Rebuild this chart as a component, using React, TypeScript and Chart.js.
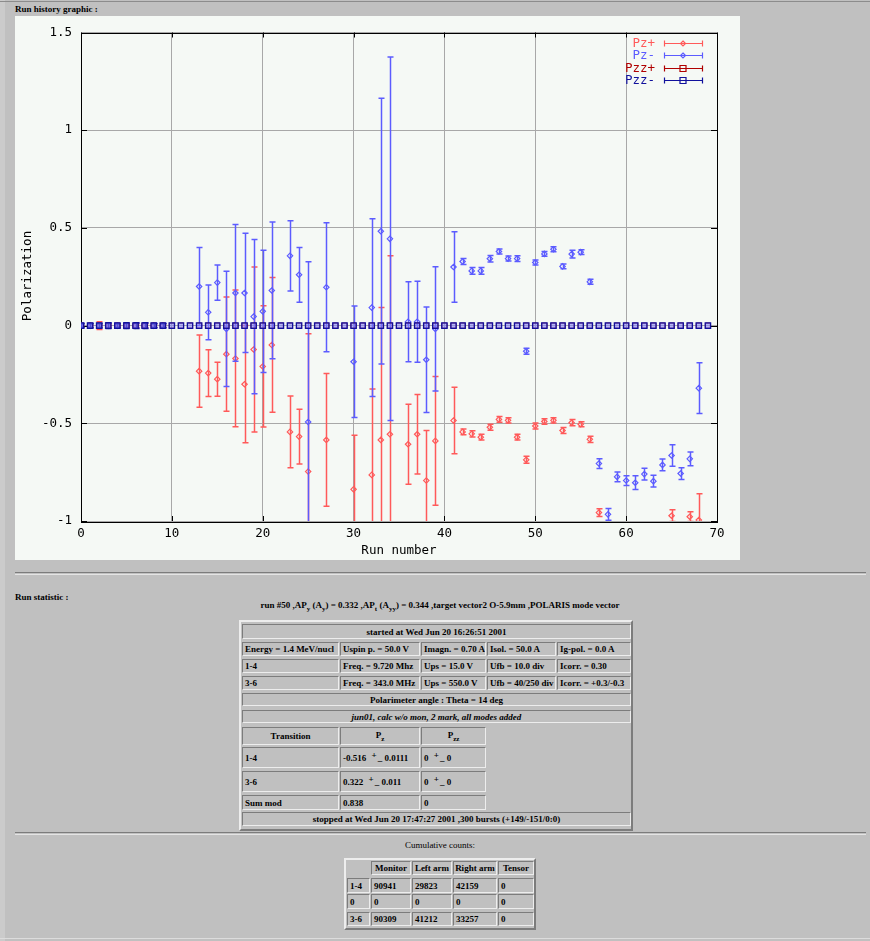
import React, { useEffect, useRef } from "react";
import { Chart, registerables } from "chart.js";
Chart.register(...registerables);

// ---------- data ----------
const pzPlusRuns = [0, 1, 2, 3, 4, 5, 6, 7, 8, 9, 13, 14, 15, 16, 17, 18, 19, 20, 21, 23, 24, 25, 27, 30, 32, 33, 34, 36, 37, 38, 39, 41, 42, 43, 44, 45, 46, 47, 48, 49, 50, 51, 52, 53, 54, 55, 56, 57, 65, 67, 68];
const pzPlusValues = [0, 0, 0, 0, 0, 0, 0, 0, 0, 0, -0.233, -0.243, -0.274, -0.146, -0.168, -0.3, -0.122, -0.209, -0.099, -0.544, -0.568, -0.747, -0.585, -0.838, -0.764, -0.585, -0.556, -0.607, -0.556, -0.793, -0.59, -0.486, -0.544, -0.554, -0.571, -0.52, -0.48, -0.485, -0.571, -0.687, -0.514, -0.491, -0.485, -0.537, -0.497, -0.505, -0.582, -0.957, -0.973, -0.978, -0.995];
const pzPlusErrors = [0.01, 0.01, 0.02, 0.01, 0.01, 0.01, 0.01, 0.01, 0.01, 0.01, 0.185, 0.12, 0.087, 0.292, 0.35, 0.3, 0.422, 0.31, 0.345, 0.184, 0.14, 0.705, 0.34, 0.277, 0.44, 0.677, 0.913, 0.205, 0.203, 0.256, 0.33, 0.17, 0.015, 0.016, 0.015, 0.015, 0.015, 0.014, 0.015, 0.018, 0.015, 0.014, 0.014, 0.015, 0.016, 0.013, 0.016, 0.02, 0.03, 0.025, 0.135];

const pzMinusRuns = [0, 1, 2, 3, 4, 5, 6, 7, 8, 9, 13, 14, 15, 16, 17, 18, 19, 20, 21, 23, 24, 25, 27, 30, 32, 33, 34, 36, 37, 38, 39, 41, 42, 43, 44, 45, 46, 47, 48, 49, 50, 51, 52, 53, 54, 55, 56, 57, 58, 59, 60, 61, 62, 63, 64, 65, 66, 67, 68];
const pzMinusValues = [0, 0, 0, 0, 0, 0, 0, 0, 0, 0, 0.2, 0.068, 0.22, -0.017, 0.167, 0.167, 0.046, 0.073, 0.18, 0.357, 0.26, -0.493, 0.196, -0.185, 0.092, 0.483, 0.444, 0.02, 0.02, -0.175, -0.017, 0.3, 0.328, 0.28, 0.28, 0.342, 0.379, 0.343, 0.343, -0.131, 0.323, 0.367, 0.391, 0.303, 0.366, 0.376, 0.224, -0.706, -0.966, -0.774, -0.793, -0.804, -0.76, -0.796, -0.713, -0.665, -0.757, -0.682, -0.32];
const pzMinusErrors = [0.012, 0.012, 0.012, 0.012, 0.012, 0.012, 0.012, 0.012, 0.012, 0.012, 0.2, 0.14, 0.09, 0.295, 0.35, 0.305, 0.395, 0.313, 0.35, 0.18, 0.14, 0.82, 0.33, 0.285, 0.455, 0.68, 0.93, 0.205, 0.207, 0.27, 0.318, 0.18, 0.015, 0.017, 0.017, 0.017, 0.013, 0.013, 0.015, 0.015, 0.013, 0.012, 0.013, 0.012, 0.02, 0.012, 0.013, 0.025, 0.03, 0.025, 0.025, 0.035, 0.03, 0.03, 0.03, 0.055, 0.03, 0.035, 0.13];

const pzzRuns = [0, 1, 2, 3, 4, 5, 6, 7, 8, 9, 10, 11, 12, 13, 14, 15, 16, 17, 18, 19, 20, 21, 22, 23, 24, 25, 26, 27, 28, 29, 30, 31, 32, 33, 34, 35, 36, 37, 38, 39, 40, 41, 42, 43, 44, 45, 46, 47, 48, 49, 50, 51, 52, 53, 54, 55, 56, 57, 58, 59, 60, 61, 62, 63, 64, 65, 66, 67, 68, 69];
const pzzPlusValues = [0, 0, 0, 0, 0, 0, 0, 0, 0, 0, 0, 0, 0, 0, 0, 0, 0, 0, 0, 0, 0, 0, 0, 0, 0, 0, 0, 0, 0, 0, 0, 0, 0, 0, 0, 0, 0, 0, 0, 0, 0, 0, 0, 0, 0, 0, 0, 0, 0, 0, 0, 0, 0, 0, 0, 0, 0, 0, 0, 0, 0, 0, 0, 0, 0, 0, 0, 0, 0, 0];
const pzzMinusValues = [0, 0, 0, 0, 0, 0, 0, 0, 0, 0, 0, 0, 0, 0, 0, 0, 0, 0, 0, 0, 0, 0, 0, 0, 0, 0, 0, 0, 0, 0, 0, 0, 0, 0, 0, 0, 0, 0, 0, 0, 0, 0, 0, 0, 0, 0, 0, 0, 0, 0, 0, 0, 0, 0, 0, 0, 0, 0, 0, 0, 0, 0, 0, 0, 0, 0, 0, 0, 0, 0];
const pzzMinusErrors = [0.01, 0.01, 0.01, 0.015, 0.01, 0.015, 0.015, 0.015, 0.01, 0.01, 0, 0, 0, 0, 0, 0, 0, 0, 0, 0, 0, 0, 0, 0, 0, 0, 0, 0, 0, 0, 0, 0, 0, 0, 0, 0, 0, 0, 0, 0, 0, 0, 0, 0, 0, 0, 0, 0, 0, 0, 0, 0, 0, 0, 0, 0, 0, 0, 0, 0, 0, 0, 0, 0, 0, 0, 0, 0, 0, 0];

const seriesLabels = ["Pz+", "Pz-", "Pzz+", "Pzz-"];
const xTickValues = [0, 10, 20, 30, 40, 50, 60, 70];
const yTickValues = [-1, -0.5, 0, 0.5, 1, 1.5];

const COL_PZP = "#ff5a5a";
const COL_PZM = "#5c5cff";
const COL_PZZP = "#b00000";
const COL_PZZM = "#10109c";
const MONO = '"DejaVu Sans Mono", monospace';

const toPoints = (xs: number[], ys: number[]) => xs.map((x, i) => ({ x, y: ys[i] }));

const errorBarPlugin = {
  id: "errorBars",
  beforeDatasetDraw(chart: any, args: any) {
    const ds = chart.data.datasets[args.index];
    const errs: number[] | undefined = ds.errors;
    if (!errs) return;
    const { ctx, chartArea, scales } = chart;
    ctx.save();
    ctx.beginPath();
    ctx.rect(chartArea.left, chartArea.top, chartArea.right - chartArea.left, chartArea.bottom - chartArea.top);
    ctx.clip();
    ctx.strokeStyle = ds.barColor || ds.borderColor;
    ctx.lineWidth = 1.5;
    ds.data.forEach((p: any, i: number) => {
      const e = errs[i];
      if (!e) return;
      const x = Math.round(scales.x.getPixelForValue(p.x)) + 0.5;
      const y1 = scales.y.getPixelForValue(p.y + e);
      const y2 = scales.y.getPixelForValue(p.y - e);
      ctx.beginPath();
      ctx.moveTo(x, y1);
      ctx.lineTo(x, y2);
      ctx.moveTo(x - 3, y1);
      ctx.lineTo(x + 3, y1);
      ctx.moveTo(x - 3, y2);
      ctx.lineTo(x + 3, y2);
      ctx.stroke();
    });
    ctx.restore();
  },
};

const framePlugin = {
  id: "frame",
  beforeDatasetsDraw(chart: any) {
    const { ctx, chartArea: a, scales } = chart;
    ctx.save();
    ctx.strokeStyle = "#000";
    ctx.lineWidth = 1;
    ctx.strokeRect(Math.round(a.left) + 0.5, Math.round(a.top) + 0.5, Math.round(a.right - a.left), Math.round(a.bottom - a.top));
    ctx.beginPath();
    xTickValues.forEach((v) => {
      const x = Math.round(scales.x.getPixelForValue(v)) + 0.5;
      ctx.moveTo(x, a.bottom);
      ctx.lineTo(x, a.bottom - 5);
      ctx.moveTo(x, a.top);
      ctx.lineTo(x, a.top + 5);
    });
    yTickValues.forEach((v) => {
      const y = Math.round(scales.y.getPixelForValue(v)) + 0.5;
      ctx.moveTo(a.left, y);
      ctx.lineTo(a.left + 6, y);
      ctx.moveTo(a.right, y);
      ctx.lineTo(a.right - 6, y);
    });
    ctx.stroke();
    ctx.restore();
  },
  afterDraw(chart: any) {
    const { ctx } = chart;
    ctx.save();
    ctx.font = `12.5px ${MONO}`;
    ctx.fillStyle = "#000";
    ctx.textAlign = "center";
    ctx.textBaseline = "middle";
    ctx.fillText("Run number", 384, 535);
    ctx.save();
    ctx.translate(13, 260);
    ctx.rotate(-Math.PI / 2);
    ctx.fillText("Polarization", 0, 0);
    ctx.restore();
    // legend
    const colors = [COL_PZP, COL_PZM, COL_PZZP, COL_PZZM];
    seriesLabels.forEach((lab, i) => {
      const y = Math.round(26.7 + i * 12.4) + 0.5;
      ctx.fillStyle = colors[i];
      ctx.textAlign = "right";
      ctx.fillText(lab, 640, y);
      ctx.strokeStyle = colors[i];
      ctx.lineWidth = 1.2;
      ctx.beginPath();
      ctx.moveTo(649.5, y);
      ctx.lineTo(687.5, y);
      ctx.moveTo(649.5, y - 3);
      ctx.lineTo(649.5, y + 3);
      ctx.moveTo(687.5, y - 3);
      ctx.lineTo(687.5, y + 3);
      ctx.stroke();
      ctx.beginPath();
      if (i < 2) {
        ctx.moveTo(668, y - 2.5);
        ctx.lineTo(670.5, y);
        ctx.lineTo(668, y + 2.5);
        ctx.lineTo(665.5, y);
        ctx.closePath();
      } else {
        ctx.rect(665, y - 3, 6, 6);
      }
      ctx.stroke();
    });
    ctx.restore();
  },
};

function PolChart() {
  const ref = useRef<HTMLCanvasElement | null>(null);
  useEffect(() => {
    if (!ref.current) return;
    const font = { family: MONO, size: 12.5 };
    const chart = new Chart(ref.current, {
      type: "scatter",
      data: {
        datasets: [
          {
            label: seriesLabels[0],
            data: toPoints(pzPlusRuns, pzPlusValues),
            errors: pzPlusErrors,
            borderColor: COL_PZP,
            backgroundColor: "rgba(0,0,0,0)",
            pointStyle: "rectRot",
            pointRadius: 2.7,
            borderWidth: 1.2,
            order: 4,
          } as any,
          {
            label: seriesLabels[1],
            data: toPoints(pzMinusRuns, pzMinusValues),
            errors: pzMinusErrors,
            borderColor: COL_PZM,
            backgroundColor: "rgba(0,0,0,0)",
            pointStyle: "rectRot",
            pointRadius: 2.7,
            borderWidth: 1.2,
            order: 3,
          } as any,
          {
            label: seriesLabels[2],
            data: toPoints(pzzRuns, pzzPlusValues),
            borderColor: COL_PZZP,
            backgroundColor: "rgba(0,0,0,0)",
            pointStyle: "rect",
            pointRadius: 3.5,
            borderWidth: 1,
            order: 2,
          } as any,
          {
            label: seriesLabels[3],
            data: toPoints(pzzRuns, pzzMinusValues),
            errors: pzzMinusErrors,
            barColor: COL_PZZM,
            borderColor: COL_PZZM,
            backgroundColor: "rgba(130,130,255,0.55)",
            pointStyle: "rect",
            pointRadius: 3.8,
            borderWidth: 1.3,
            order: 1,
          } as any,
        ],
      },
      options: {
        animation: false,
        responsive: false,
        maintainAspectRatio: false,
        events: [],
        layout: { padding: { top: 15, right: 23, left: 0, bottom: 0 } },
        plugins: { legend: { display: false }, tooltip: { enabled: false } },
        scales: {
          x: {
            type: "linear",
            min: 0,
            max: 70,
            ticks: { stepSize: 10, font, color: "#000", padding: 5, maxRotation: 0, callback: (v: any) => `${Number(v)}` },
            grid: { color: "#a8a8a8", drawTicks: false },
            border: { display: false },
            afterFit: (s: any) => {
              s.height = 39;
            },
          },
          y: {
            type: "linear",
            min: -1,
            max: 1.5,
            ticks: { stepSize: 0.5, font, color: "#000", padding: 9, callback: (v: any) => `${Number(v)}` },
            grid: { color: "#a8a8a8", drawTicks: false },
            border: { display: false },
            afterFit: (s: any) => {
              s.width = 66;
            },
          },
        },
      } as any,
      plugins: [errorBarPlugin, framePlugin],
    });
    return () => chart.destroy();
  }, []);
  return (
    <canvas
      ref={ref}
      width={725}
      height={544}
      style={{ position: "absolute", left: 15, top: 16, width: 725, height: 544, background: "#f5f9f5" }}
    />
  );
}

// ---------- page ----------
const SERIF = '"Liberation Serif", "Times New Roman", serif';

type CellProps = {
  x1: number;
  x2: number;
  y1: number;
  y2: number;
  center?: boolean;
  italic?: boolean;
  noBorder?: boolean;
  children?: React.ReactNode;
};

function Cell({ x1, x2, y1, y2, center, italic, noBorder, children }: CellProps) {
  return (
    <div
      style={{
        position: "absolute",
        left: x1,
        top: y1,
        width: x2 - x1 + 1,
        height: y2 - y1 + 1,
        boxSizing: "border-box",
        border: noBorder ? "none" : "1px solid",
        borderColor: "#7c7c7c #ededed #ededed #7c7c7c",
        display: "flex",
        alignItems: "center",
        justifyContent: center ? "center" : "flex-start",
        paddingLeft: center ? 0 : 2,
        fontFamily: SERIF,
        fontWeight: "bold",
        fontStyle: italic ? "italic" : "normal",
        fontSize: 9,
        color: "#000",
        whiteSpace: "nowrap",
        overflow: "hidden",
      }}
    >
      {children}
    </div>
  );
}

function Outer({ x1, x2, y1, y2 }: { x1: number; x2: number; y1: number; y2: number }) {
  return (
    <div
      style={{
        position: "absolute",
        left: x1,
        top: y1,
        width: x2 - x1 + 1,
        height: y2 - y1 + 1,
        boxSizing: "border-box",
        border: "2px solid",
        borderColor: "#ededed #7c7c7c #7c7c7c #ededed",
      }}
    />
  );
}

function Hr({ y }: { y: number }) {
  return (
    <div
      style={{
        position: "absolute",
        left: 15,
        top: y,
        width: 851,
        height: 1,
        borderTop: "1px solid #7c7c7c",
        borderBottom: "1px solid #e4e4e4",
      }}
    />
  );
}

const Pm = () => (
  <span>
    <span style={{ position: "relative", top: -3, margin: "0 1px 0 3px" }}>+</span>_
  </span>
);

const label: React.CSSProperties = {
  position: "absolute",
  fontFamily: SERIF,
  fontWeight: "bold",
  fontSize: 9,
  color: "#000",
  whiteSpace: "nowrap",
};

const cols = [
  [242, 338],
  [340, 419],
  [421, 485],
  [487, 555],
  [557, 630],
];

const paramRows = [
  { y: [642, 655], cells: ["Energy = 1.4 MeV/nucl", "Uspin p. = 50.0 V", "Imagn. = 0.70 A", "Isol. = 50.0 A", "Ig-pol. = 0.0 A"] },
  { y: [659, 672], cells: ["1-4", "Freq. = 9.720 Mhz", "Ups = 15.0 V", "Ufb = 10.0 div", "Icorr. = 0.30"] },
  { y: [676, 689], cells: ["3-6", "Freq. = 343.0 MHz", "Ups = 550.0 V", "Ufb = 40/250 div", "Icorr. = +0.3/-0.3"] },
];

const countCols = [
  [347, 369],
  [371, 410],
  [412, 451],
  [453, 496],
  [498, 533],
];
const countHeaders = ["", "Monitor", "Left arm", "Right arm", "Tensor"];
const countRows = [
  { y: [878, 892], cells: ["1-4", "90941", "29823", "42159", "0"] },
  { y: [894, 908], cells: ["0", "0", "0", "0", "0"] },
  { y: [912, 925], cells: ["3-6", "90309", "41212", "33257", "0"] },
];

export default function App() {
  return (
    <div style={{ position: "absolute", left: 0, top: 0, width: 870, height: 941, background: "#c0c0c0", overflow: "hidden" }}>
      <div style={{ position: "absolute", left: 0, top: 0, width: 5, height: 941, background: "#cbcbcb" }} />
      <div style={{ position: "absolute", left: 0, top: 1, width: 870, height: 1, background: "#8c8c8c" }} />
      <div style={{ position: "absolute", left: 0, top: 938, width: 870, height: 1, background: "#dcdcdc" }} />

      <div style={{ ...label, left: 15, top: 4 }}>Run history graphic :</div>
      <PolChart />

      <Hr y={572} />
      <div style={{ ...label, left: 15, top: 592 }}>Run statistic :</div>
      <div style={{ ...label, left: 0, width: 880, top: 600, textAlign: "center" }}>
        run #50 ,<b>AP</b>
        <sub style={{ fontSize: 7 }}>y</sub> (A<sub style={{ fontSize: 7 }}>y</sub>) = 0.332 ,<b>AP</b>
        <sub style={{ fontSize: 7 }}>t</sub> (A<sub style={{ fontSize: 7 }}>yy</sub>) = 0.344 ,target vector2 O-5.9mm ,POLARIS mode vector
      </div>

      <Outer x1={239} x2={632} y1={620} y2={830} />
      <Cell x1={242} x2={630} y1={624} y2={638} center>
        started at Wed Jun 20 16:26:51 2001
      </Cell>
      {paramRows.map((r, ri) =>
        r.cells.map((c, ci) => (
          <Cell key={`p${ri}-${ci}`} x1={cols[ci][0]} x2={cols[ci][1]} y1={r.y[0]} y2={r.y[1]}>
            {c}
          </Cell>
        ))
      )}
      <Cell x1={242} x2={630} y1={693} y2={705} center>
        Polarimeter angle : Theta = 14 deg
      </Cell>
      <Cell x1={242} x2={630} y1={710} y2={722} center italic>
        jun01, calc w/o mon, 2 mark, all modes added
      </Cell>
      <Cell x1={242} x2={338} y1={727} y2={744} center>
        Transition
      </Cell>
      <Cell x1={340} x2={419} y1={727} y2={744} center>
        <span>
          P<sub style={{ fontSize: 7 }}>z</sub>
        </span>
      </Cell>
      <Cell x1={421} x2={485} y1={727} y2={744} center>
        <span>
          P<sub style={{ fontSize: 7 }}>zz</sub>
        </span>
      </Cell>
      <Cell x1={242} x2={338} y1={747} y2={767}>1-4</Cell>
      <Cell x1={340} x2={419} y1={747} y2={767}>
        <span>
          -0.516 <Pm /> 0.0111
        </span>
      </Cell>
      <Cell x1={421} x2={485} y1={747} y2={767}>
        <span>
          0 <Pm /> 0
        </span>
      </Cell>
      <Cell x1={242} x2={338} y1={771} y2={791}>3-6</Cell>
      <Cell x1={340} x2={419} y1={771} y2={791}>
        <span>
          0.322 <Pm /> 0.011
        </span>
      </Cell>
      <Cell x1={421} x2={485} y1={771} y2={791}>
        <span>
          0 <Pm /> 0
        </span>
      </Cell>
      <Cell x1={242} x2={338} y1={795} y2={809}>Sum mod</Cell>
      <Cell x1={340} x2={419} y1={795} y2={809}>0.838</Cell>
      <Cell x1={421} x2={485} y1={795} y2={809}>0</Cell>
      <Cell x1={242} x2={630} y1={812} y2={825} center>
        stopped at Wed Jun 20 17:47:27 2001 ,300 bursts (+149/-151/0:0)
      </Cell>

      <Hr y={832} />
      <div style={{ ...label, left: 0, width: 880, top: 840, textAlign: "center", fontWeight: "normal" }}>Cumulative counts:</div>
      <Outer x1={344} x2={535} y1={858} y2={929} />
      {countHeaders.map((h, ci) => (
        <Cell key={`h${ci}`} x1={countCols[ci][0]} x2={countCols[ci][1]} y1={861} y2={874} center noBorder={ci === 0}>
          {h}
        </Cell>
      ))}
      {countRows.map((r, ri) =>
        r.cells.map((c, ci) => (
          <Cell key={`c${ri}-${ci}`} x1={countCols[ci][0]} x2={countCols[ci][1]} y1={r.y[0]} y2={r.y[1]}>
            {c}
          </Cell>
        ))
      )}
    </div>
  );
}
